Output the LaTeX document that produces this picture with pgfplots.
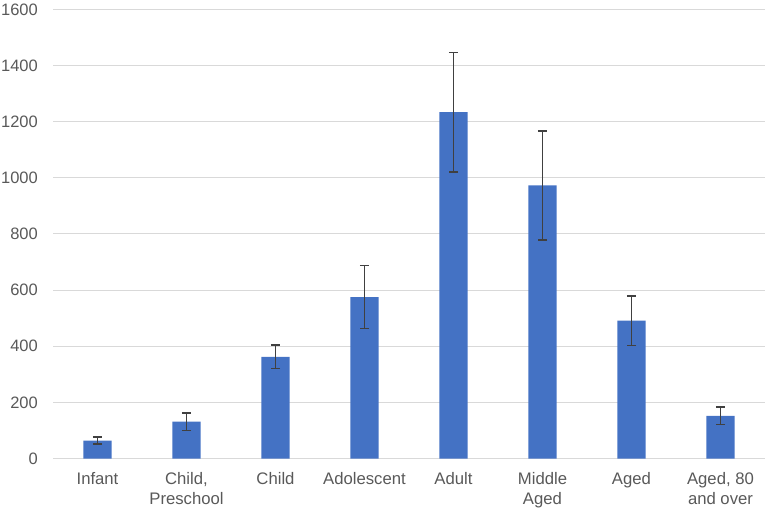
\documentclass[border=0pt]{standalone}
\usepackage{pgfplots}
\pgfplotsset{compat=1.18}
\usepackage{fontspec}
\setmainfont{Liberation Sans}
\definecolor{barblue}{HTML}{4472C4}
\definecolor{gridgray}{HTML}{D9D9D9}
\definecolor{txtgray}{HTML}{595959}
\definecolor{errgray}{HTML}{404040}
\begin{document}
\begin{tikzpicture}
\path[use as bounding box] (0,0) rectangle (768bp,511bp);
\begin{axis}[
  at={(53bp,52.5bp)}, anchor=south west,
  scale only axis, width=712bp, height=449bp,
  xmin=-0.5, xmax=7.5, ymin=0, ymax=1600,
  ytick={0,200,...,1600},
  xtick={0,...,7},
  xticklabels={Infant, {Child,\\Preschool}, Child, Adolescent, Adult, {Middle\\Aged}, Aged, {Aged, 80\\and over}},
  axis line style={draw=none},
  major tick length=0pt,
  tick style={draw=none},
  ymajorgrids, grid style={gridgray, line width=1bp},
  /pgf/number format/assume math mode=true,
  /pgf/number format/1000 sep={},
  yticklabel style={font=\fontsize{16.5bp}{19.5bp}\selectfont, text=txtgray, anchor=east, inner sep=0pt, xshift=-15bp},
  xticklabel style={font=\fontsize{16.7bp}{19.5bp}\selectfont, text=txtgray, align=center, anchor=north, inner sep=0pt, yshift=-14bp},
  clip=false,
]
\addplot[ybar, bar width=28bp, fill=barblue, draw=none,
  error bars/.cd, y dir=both, y explicit,
  error bar style={line width=1.5bp, errgray},
  error mark options={rotate=90, mark size=4.5bp, line width=1.5bp, errgray}]
  table[x=x, y=y, y error=e] {
x y e
0 64 12
1 131 31
2 362 42
3 575 112
4 1234 213
5 973 194
6 491 88
7 152 31
};
\end{axis}
\end{tikzpicture}
\end{document}
